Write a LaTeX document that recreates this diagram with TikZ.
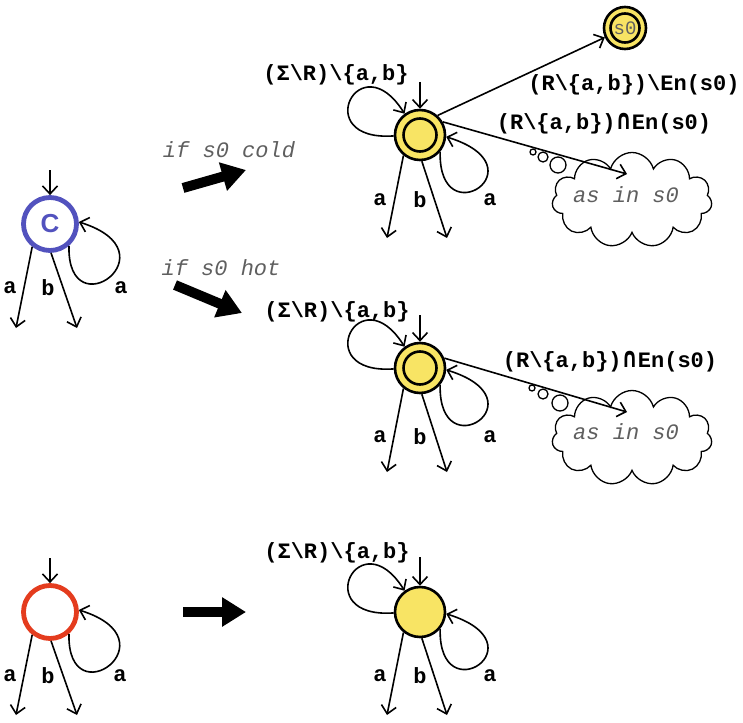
\documentclass[tikz,border=0pt]{standalone}
\usepackage{fontspec}
\setmonofont{Liberation Mono}
\newfontfamily\csansfont{Liberation Sans}
\newfontfamily\dvsans{DejaVu Sans}
\usetikzlibrary{arrows.meta,shapes.symbols}
\definecolor{yfill}{RGB}{248,228,100}
\definecolor{cblue}{RGB}{82,82,190}
\definecolor{cred}{RGB}{228,60,30}
\definecolor{tgray}{RGB}{95,95,95}
\newcommand{\lblfont}{\fontsize{22}{26}\selectfont\ttfamily\bfseries}
\newcommand{\itlfont}{\fontsize{22}{26}\selectfont\ttfamily\itshape}
\newcommand{\bsl}{\textbackslash}
\newcommand{\capsym}{{\dvsans\bfseries\fontsize{20}{22}\selectfont\scalebox{1}[1.4]{∩}}}
\begin{document}
\begin{tikzpicture}[x=1pt,y=-1pt,
  edge/.style={line width=1.6pt,-{Straight Barb[length=8pt,width=15pt]}},
  lbl/.style={font=\lblfont,inner sep=0pt},
  itl/.style={font=\itlfont,text=tgray,inner sep=0pt},
  ystate/.style={circle,draw=black,line width=2.6pt,fill=yfill,minimum size=50pt,inner sep=0pt},
  cstate/.style={circle,line width=4.8pt,minimum size=53pt,inner sep=0pt},
  ring/.style={draw=black,line width=2.6pt},
  fat/.style={line width=10pt,-{Triangle[length=24pt,width=28pt]}},
  bubble/.style={draw=black,line width=1.3pt,fill=white},
  thought/.style={cloud,cloud puffs=11,aspect=1.7,draw=black,line width=1.3pt,fill=white,minimum width=160pt,minimum height=95pt,inner sep=0pt}
]
\useasboundingbox (0,0) rectangle (743,722);

% ---------- left states ----------
\node[cstate,draw=cblue,text=cblue,font=\csansfont\bfseries\fontsize{26}{28}\selectfont] (C) at (50,224) {C};
\coordinate (Ci) at (50,170);
\coordinate (Ca) at (16,328);
\coordinate (Cb) at (77,328);
\draw[edge] (Ci) -- (C);
\draw[edge] (C.232) -- (Ca);
\draw[edge] (C.272) -- (Cb);
\draw[edge] (C.311) .. controls +(-2,85) and +(97,30) .. (C.4);
\node[lbl] (Cla) at (10,288) {a};
\node[lbl] (Clb) at (48,288) {b};
\node[lbl] (Clc) at (121,288) {a};

\node[cstate,draw=cred] (Rs) at (50,612) {};
\coordinate (Ri) at (50,558);
\coordinate (Ra) at (16,715);
\coordinate (Rb) at (77,715);
\draw[edge] (Ri) -- (Rs);
\draw[edge] (Rs.232) -- (Ra);
\draw[edge] (Rs.272) -- (Rb);
\draw[edge] (Rs.311) .. controls +(-2,85) and +(97,30) .. (Rs.4);
\node[lbl] (Rla) at (10,676) {a};
\node[lbl] (Rlb) at (48,676) {b};
\node[lbl] (Rlc) at (120,676) {a};

% ---------- fat arrows ----------
\node[itl] (tcold) at (229,150) {if s0 cold};
\node[itl] (thot) at (221,268) {if s0 hot};
\coordinate (f1s) at (183,188); \coordinate (f1e) at (246,170);
\coordinate (f2s) at (175,285); \coordinate (f2e) at (242,313);
\coordinate (f3s) at (183,612); \coordinate (f3e) at (246,612);
\draw[fat] (f1s) -- (f1e);
\draw[fat] (f2s) -- (f2e);
\draw[fat] (f3s) -- (f3e);

% ---------- top state ----------
\node[ystate] (m1) at (420,135) {};
\draw[ring] (m1.center) circle (16.5pt);
\coordinate (m1i) at (420,82);
\coordinate (m1a) at (387,238);
\coordinate (m1b) at (447,238);
\draw[edge] (m1i) -- (m1);
\draw[edge] (m1.231) -- (m1a);
\draw[edge] (m1.274) -- (m1b);
\draw[edge] (m1.182) .. controls +(-85,6) and +(-45,-72) .. (m1.126);
\draw[edge] (m1.320) .. controls +(-2,85) and +(97,30) .. (m1.356);
\node[lbl] (m1ls) at (336,75) {(Σ\bsl R)\bsl\{a,b\}};
\node[lbl] (m1la) at (380,200) {a};
\node[lbl] (m1lb) at (420,200) {b};
\node[lbl] (m1lc) at (490,200) {a};

\node[ystate,minimum size=42pt,font=\fontsize{19}{22}\selectfont\ttfamily,text=tgray] (s0) at (625,28) {s0};
\draw[ring] (s0.center) circle (14.5pt);
\draw[edge] (m1.48) -- (s0);
\node[lbl] (l1) at (634,85) {(R\bsl\{a,b\})\bsl En(s0)};

\draw[bubble] (533,152) circle (3pt) (543,157) circle (5pt) (558,165) circle (8pt);
\node[thought] (cl1) at (632,200) {};
\node[itl] (cl1t) at (626,195) {as in s0};
\coordinate (c1tip) at (627,174);
\draw[edge] (m1.30) -- (c1tip);
\node[lbl] (l2) at (604,124) {(R\bsl\{a,b\})\capsym En(s0)};

% ---------- middle state ----------
\node[ystate] (m2) at (420,368) {};
\draw[ring] (m2.center) circle (16.5pt);
\coordinate (m2i) at (420,315);
\coordinate (m2a) at (387,472);
\coordinate (m2b) at (447,472);
\draw[edge] (m2i) -- (m2);
\draw[edge] (m2.231) -- (m2a);
\draw[edge] (m2.274) -- (m2b);
\draw[edge] (m2.182) .. controls +(-85,6) and +(-45,-72) .. (m2.126);
\draw[edge] (m2.320) .. controls +(-2,85) and +(97,30) .. (m2.356);
\node[lbl] (m2ls) at (337,312) {(Σ\bsl R)\bsl\{a,b\}};
\node[lbl] (m2la) at (380,437) {a};
\node[lbl] (m2lb) at (420,437) {b};
\node[lbl] (m2lc) at (490,437) {a};

\draw[bubble] (532,388) circle (3pt) (543,394) circle (5pt) (560,403) circle (8pt);
\node[thought] (cl2) at (632,438) {};
\node[itl] (cl2t) at (626,432) {as in s0};
\coordinate (c2tip) at (627,412);
\draw[edge] (m2.22) -- (c2tip);
\node[lbl] (l3) at (610,362) {(R\bsl\{a,b\})\capsym En(s0)};

% ---------- bottom state ----------
\node[ystate] (m3) at (420,612) {};
\coordinate (m3i) at (420,557);
\coordinate (m3a) at (387,715);
\coordinate (m3b) at (447,715);
\draw[edge] (m3i) -- (m3);
\draw[edge] (m3.231) -- (m3a);
\draw[edge] (m3.274) -- (m3b);
\draw[edge] (m3.182) .. controls +(-85,6) and +(-45,-72) .. (m3.126);
\draw[edge] (m3.320) .. controls +(-2,85) and +(97,30) .. (m3.356);
\node[lbl] (m3ls) at (337,553) {(Σ\bsl R)\bsl\{a,b\}};
\node[lbl] (m3la) at (380,676) {a};
\node[lbl] (m3lb) at (420,676) {b};
\node[lbl] (m3lc) at (490,676) {a};
\end{tikzpicture}
\end{document}
